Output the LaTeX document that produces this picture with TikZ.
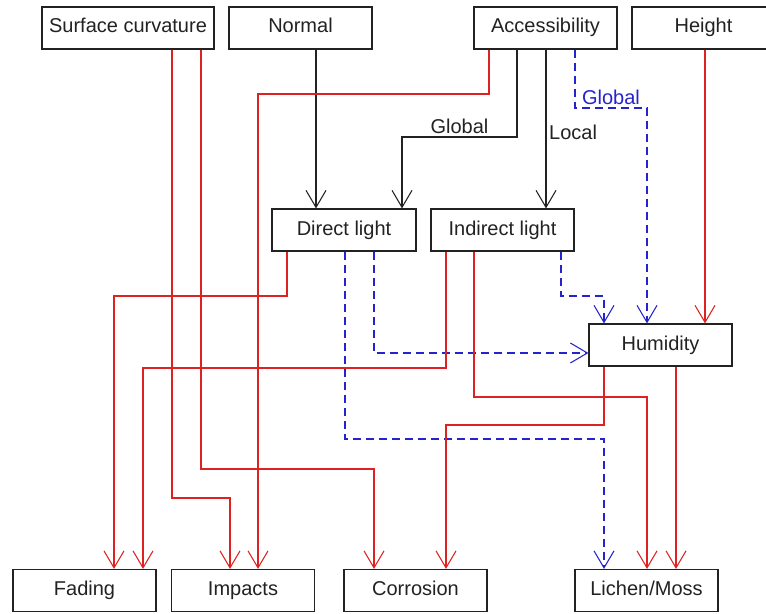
\documentclass[tikz,border=0pt]{standalone}
\usepackage{fontspec}
\setmainfont{Liberation Sans}
\usetikzlibrary{arrows.meta}
\definecolor{lnred}{RGB}{222,34,34}
\definecolor{lnblue}{RGB}{36,36,204}
\definecolor{lnblack}{RGB}{34,34,34}
\begin{document}
\begin{tikzpicture}[x=0.75pt,y=-0.75pt,
  box/.style={draw=lnblack,fill=white,line width=0.9pt,minimum width=107.25pt,minimum height=31.5pt,inner sep=0pt,
    text height=11pt,text depth=3.5pt,font=\fontsize{15}{18}\selectfont,text=lnblack},
  conn/.style={line width=0.8pt,-{Straight Barb[length=12.75pt,width=15pt]}},
  blk/.style={conn,draw=lnblack},
  redl/.style={conn,draw=lnred},
  bluel/.style={conn,draw=lnblue,dash pattern=on 6pt off 3.75pt},
  lbl/.style={font=\fontsize{15}{18}\selectfont,inner sep=2pt}]
\useasboundingbox (0,0) rectangle (766,613);
% boxes
\node[box,minimum width=129pt] (sc) at (128,28) {Surface curvature};
\node[box] (normal) at (300.5,28) {Normal};
\node[box] (access) at (545.5,28) {Accessibility};
\node[box] (height) at (703.5,28) {Height};
\node[box,minimum width=108pt] (direct) at (344,230) {Direct light};
\node[box] (indirect) at (502.5,230) {Indirect light};
\node[box] (humidity) at (660.5,345) {Humidity};
\node[box] (fading) at (84.5,590.5) {Fading};
\node[box] (impacts) at (243,590.5) {Impacts};
\node[box] (corrosion) at (415.5,590.5) {Corrosion};
\node[box] (lichen) at (646.5,590.5) {Lichen/Moss};
% black connectors
\draw[blk] (normal.south -| 316,0) -- (direct.north -| 316,0);
\draw[blk] (access.south -| 517,0) |- (402,137) node[lbl,pos=0.75,above,text=lnblack] {Global} -- (direct.north -| 402,0);
\draw[blk] (access.south -| 546,0) -- (indirect.north -| 546,0) node[lbl,pos=0.52,right,text=lnblack] {Local};
% blue dashed connectors
\draw[bluel] (access.south -| 575,0) |- (647,108) node[lbl,pos=0.75,above,text=lnblue] {Global} -- (humidity.north -| 647,0);
\draw[bluel] (indirect.south -| 561,0) |- (604,296) -- (humidity.north -| 604,0);
\draw[bluel] (direct.south -| 374,0) |- (humidity.west |- 0,353);
\draw[bluel] (direct.south -| 345,0) |- (604,439) -- (lichen.north -| 604,0);
% red connectors
\draw[redl] (sc.south -| 172,0) |- (230,498) -- (impacts.north -| 230,0);
\draw[redl] (sc.south -| 201,0) |- (374,469) -- (corrosion.north -| 374,0);
\draw[redl] (access.south -| 489,0) |- (258,94) -- (impacts.north -| 258,0);
\draw[redl] (height.south -| 705,0) -- (humidity.north -| 705,0);
\draw[redl] (direct.south -| 287,0) |- (114,296) -- (fading.north -| 114,0);
\draw[redl] (indirect.south -| 446,0) |- (143,368) -- (fading.north -| 143,0);
\draw[redl] (indirect.south -| 474,0) |- (647,397) -- (lichen.north -| 647,0);
\draw[redl] (humidity.south -| 604,0) |- (446,425) -- (corrosion.north -| 446,0);
\draw[redl] (humidity.south -| 676,0) -- (lichen.north -| 676,0);
\end{tikzpicture}
\end{document}
